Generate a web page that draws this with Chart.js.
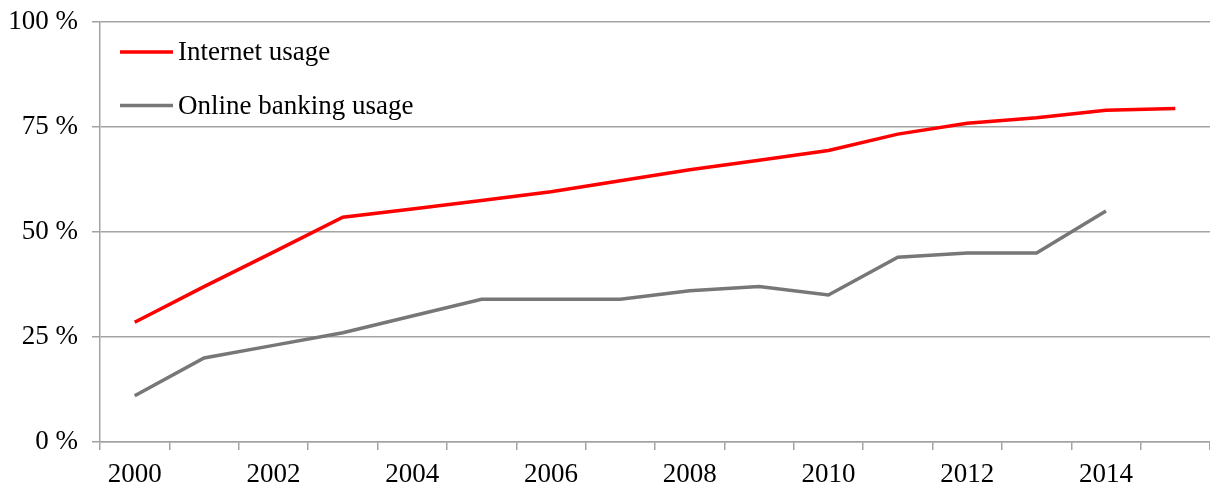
<!DOCTYPE html>
<html>
<head>
<meta charset="utf-8">
<script src="https://cdn.jsdelivr.net/npm/chart.js@4/dist/chart.umd.min.js"></script>
<style>
  html, body { margin: 0; padding: 0; background: #fff; }
  #wrap { width: 1210px; height: 489px; position: relative; }
</style>
</head>
<body>
<div id="wrap"><canvas id="c"></canvas></div>
<script>
// Years on the horizontal axis
const years = ['2000','2001','2002','2003','2004','2005','2006','2007',
               '2008','2009','2010','2011','2012','2013','2014','2015'];

// Share of population, percent
const internetUsage = [28.5, 37, 45.2, 53.5, 55.5, 57.5, 59.6, 62.2,
                       64.8, 67.1, 69.4, 73.3, 75.9, 77.2, 79.0, 79.4];
const onlineBankingUsage = [11, 20, 23, 26, 30, 34, 34, 34,
                            36, 37, 35, 44, 45, 45, 55, null];

const yTicks = [0, 25, 50, 75, 100];

const serif = '"Liberation Serif", "Times New Roman", serif';
const fontSize = 27;
const gridColor = '#a3a3a3';

// Legend drawn inside the plot area, top-left
const insideLegend = {
  id: 'insideLegend',
  afterDraw(chart) {
    const ctx = chart.ctx;
    const area = chart.chartArea;
    ctx.save();
    ctx.font = fontSize + 'px ' + serif;
    ctx.textBaseline = 'middle';
    ctx.textAlign = 'left';
    chart.data.datasets.forEach((ds, i) => {
      const y = area.top + 30 + i * 53.5;
      const x0 = area.left + 20;
      ctx.strokeStyle = ds.borderColor;
      ctx.lineWidth = 3.5;
      ctx.beginPath();
      ctx.moveTo(x0, y);
      ctx.lineTo(x0 + 53, y);
      ctx.stroke();
      ctx.fillStyle = '#000';
      ctx.fillText(ds.label, x0 + 58, y + 1);
    });
    ctx.restore();
  }
};

new Chart(document.getElementById('c'), {
  type: 'line',
  data: {
    labels: years,
    datasets: [
      {
        label: 'Internet usage',
        data: internetUsage,
        borderColor: '#ff0000',
        backgroundColor: '#ff0000',
        borderWidth: 3.5,
        pointRadius: 0,
        tension: 0
      },
      {
        label: 'Online banking usage',
        data: onlineBankingUsage,
        borderColor: '#777777',
        backgroundColor: '#777777',
        borderWidth: 3.5,
        pointRadius: 0,
        tension: 0
      }
    ]
  },
  options: {
    responsive: true,
    maintainAspectRatio: false,
    animation: false,
    layout: { padding: { top: 22, left: 0, right: 0, bottom: 0 } },
    plugins: {
      legend: { display: false },
      tooltip: { enabled: false }
    },
    scales: {
      x: {
        offset: true,
        grid: {
          offset: true,
          drawOnChartArea: false,
          drawTicks: true,
          tickLength: 8,
          color: gridColor,
          lineWidth: 1.5
        },
        border: { color: gridColor, width: 1.5 },
        ticks: {
          autoSkip: false,
          maxRotation: 0,
          padding: 9,
          color: '#000',
          font: { family: serif, size: fontSize },
          callback: function (value, index) {
            return index % 2 === 0 ? years[index] : '';
          }
        },
        afterFit(scale) {
          scale.height = 47;
          scale.paddingLeft = 0;
          scale.paddingRight = 0;
        }
      },
      y: {
        min: 0,
        max: 100,
        afterBuildTicks(scale) {
          scale.ticks = yTicks.map(v => ({ value: v }));
        },
        grid: {
          color: gridColor,
          lineWidth: 1.5,
          drawTicks: true,
          tickLength: 8
        },
        border: { color: gridColor, width: 1.5 },
        ticks: {
          padding: 14,
          color: '#000',
          font: { family: serif, size: fontSize },
          callback: v => v + ' %'
        },
        afterFit(scale) {
          scale.width = 100;
          scale.paddingTop = 0;
          scale.paddingBottom = 0;
        }
      }
    }
  },
  plugins: [insideLegend]
});
</script>
</body>
</html>
